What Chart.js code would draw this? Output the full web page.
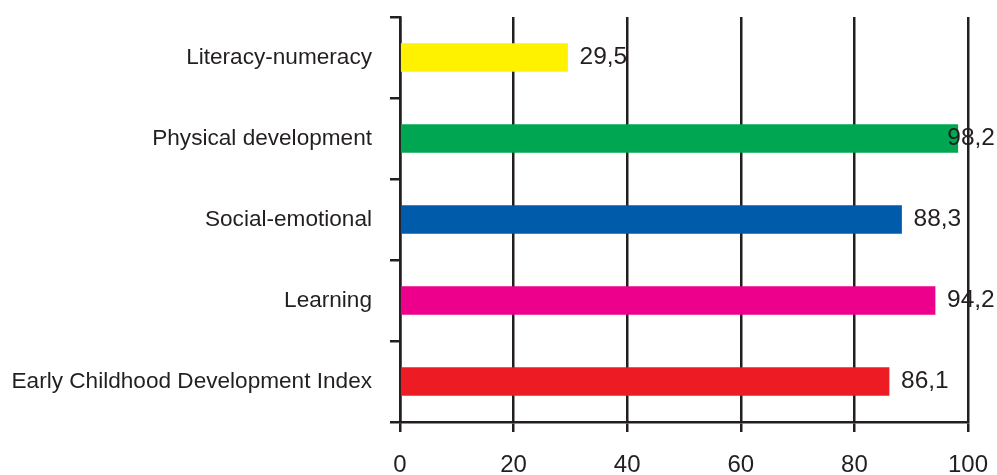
<!DOCTYPE html>
<html>
<head>
<meta charset="utf-8">
<script src="https://cdn.jsdelivr.net/npm/chart.js@4"></script>
<style>
html,body{margin:0;padding:0;background:#fff;}
#wrap{width:997px;height:475px;}
</style>
</head>
<body>
<div id="wrap"><canvas id="c" width="997" height="475"></canvas></div>
<script>
const categories = ["Literacy-numeracy", "Physical development", "Social-emotional", "Learning", "Early Childhood Development Index"];
const values = [29.5, 98.2, 88.3, 94.2, 86.1];
const barColors = ["#FFF200", "#00A651", "#005BAA", "#EC008C", "#ED1C24"];
const xTicks = [0, 20, 40, 60, 80, 100];

const ink = "#231F20";

const valueLabels = {
  id: "valueLabels",
  afterDatasetsDraw(chart) {
    const ctx = chart.ctx;
    const meta = chart.getDatasetMeta(0);
    ctx.save();
    ctx.font = "24.5px 'Liberation Sans', Arial, sans-serif";
    ctx.fillStyle = ink;
    ctx.textBaseline = "middle";
    ctx.textAlign = "left";
    meta.data.forEach((bar, i) => {
      const txt = values[i].toFixed(1).replace(".", ",");
      const w = ctx.measureText(txt).width;
      let x = bar.x + 12;
      if (x + w > chart.width - 2) x = chart.width - 2 - w;
      ctx.fillText(txt, x, bar.y);
    });
    ctx.restore();
  }
};

new Chart(document.getElementById("c"), {
  type: "bar",
  data: {
    labels: categories,
    datasets: [{
      data: values,
      backgroundColor: barColors,
      borderWidth: 0,
      barThickness: 28
    }]
  },
  options: {
    indexAxis: "y",
    responsive: false,
    animation: false,
    devicePixelRatio: 1,
    layout: { padding: { top: 17, right: 29, left: 0, bottom: 0 } },
    plugins: { legend: { display: false }, tooltip: { enabled: false } },
    scales: {
      x: {
        min: 0, max: 100,
        afterBuildTicks(scale) { scale.ticks = xTicks.map(v => ({ value: v })); },
        afterFit(scale) {
          scale.height = 53;
          scale.paddingLeft = 0; scale.paddingRight = 0;
          scale.paddingTop = 0; scale.paddingBottom = 0;
        },
        grid: {
          color: ink, lineWidth: 2.5, tickLength: 10, drawOnChartArea: true
        },
        border: { display: true, color: ink, width: 2.5 },
        ticks: {
          color: ink, padding: 19,
          font: { family: "'Liberation Sans', Arial, sans-serif", size: 24 }
        }
      },
      y: {
        afterFit(scale) {
          scale.width = 400;
          scale.paddingLeft = 0; scale.paddingRight = 0;
          scale.paddingTop = 0; scale.paddingBottom = 0;
        },
        grid: {
          offset: true, drawOnChartArea: false, color: ink, lineWidth: 2.5, tickLength: 10
        },
        border: { display: true, color: ink, width: 2.5 },
        ticks: {
          color: ink, padding: 18,
          font: { family: "'Liberation Sans', Arial, sans-serif", size: 22.6 }
        }
      }
    }
  },
  plugins: [valueLabels]
});
</script>
</body>
</html>
